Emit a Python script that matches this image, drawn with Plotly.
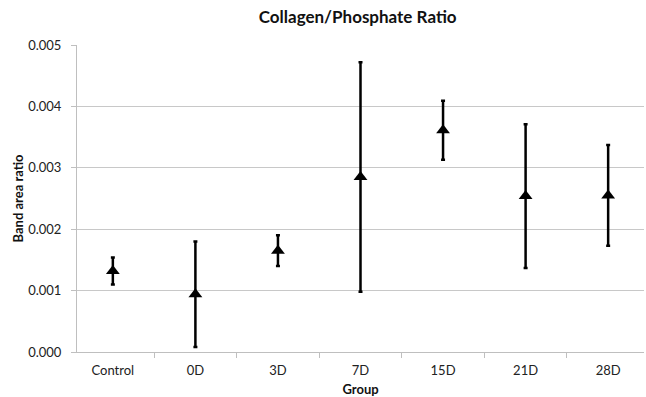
import plotly.graph_objects as go

groups = ["Control", "0D", "3D", "7D", "15D", "21D", "28D"]
ratio = [0.00132, 0.00094, 0.00165, 0.00285, 0.00361, 0.00254, 0.00255]
err = [0.00022, 0.00086, 0.00025, 0.00187, 0.00048, 0.00117, 0.00082]
y_ticks = [0.000, 0.001, 0.002, 0.003, 0.004, 0.005]

FONT = "Lato, 'Open Sans', sans-serif"

fig = go.Figure()
fig.add_trace(go.Scatter(
    x=groups, y=ratio, mode="markers",
    marker=dict(symbol="triangle-up", size=12, color="black"),
    error_y=dict(type="data", array=err, visible=True, color="black",
                 thickness=2.5, width=2),
    showlegend=False,
))

fig.update_layout(
    width=646, height=397,
    margin=dict(l=77, r=2, t=45, b=45),
    paper_bgcolor="white", plot_bgcolor="white",
    font=dict(family=FONT, size=13, color="#222"),
    title=dict(text="<b>Collagen/Phosphate Ratio</b>", xref="paper", x=0.495, xanchor="center",
               yref="container", y=0.957, yanchor="middle",
               font=dict(family=FONT, size=17, color="#111")),
)
fig.update_xaxes(
    type="category", showgrid=False, showline=True, linecolor="#bfbfbf", linewidth=1,
    ticks="outside", tickson="boundaries", ticklen=5, tickcolor="#bfbfbf",
    ticklabelstandoff=6, automargin=False,
    tickfont=dict(size=13, color="#222"),
    title=dict(text="<b>Group</b>", font=dict(size=13, color="#111"), standoff=8),
)
fig.update_yaxes(
    range=[0, 0.005], tickvals=y_ticks, tickformat=".3f",
    showgrid=True, gridcolor="#c8c8c8", gridwidth=1,
    showline=True, linecolor="#bfbfbf", linewidth=1,
    ticks="outside", ticklen=5, tickcolor="#bfbfbf",
    ticklabelstandoff=7, automargin=False,
    zeroline=False,
    tickfont=dict(size=13, color="#222"),
    title=dict(text="<b>Band area ratio</b>", font=dict(size=13, color="#111"), standoff=1),
)

fig.write_html("out.html")
